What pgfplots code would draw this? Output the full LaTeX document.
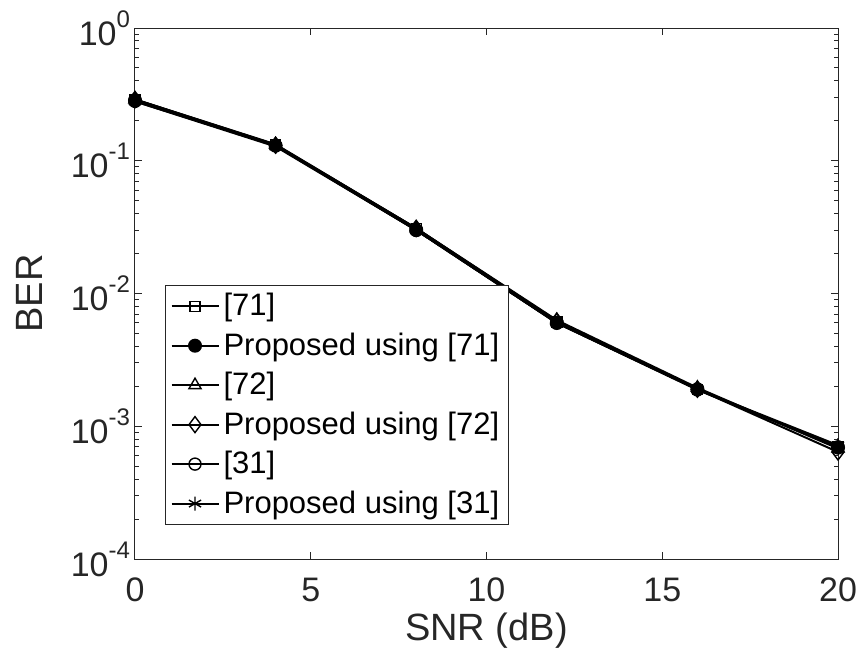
\documentclass[border=0pt]{standalone}
\usepackage{fontspec}
\setmainfont{Liberation Sans}
\usepackage{pgfplots}
\pgfplotsset{compat=1.18}
\definecolor{axgray}{RGB}{38,38,38}
\newcommand{\sep}[1]{10\raisebox{9pt}{\fontsize{12}{12}\selectfont #1}}
\begin{document}
\begin{tikzpicture}
\begin{axis}[
  scale only axis, width=351.5pt, height=265.5pt,
  ymode=log, xmin=0, xmax=20, ymin=1e-4, ymax=1,
  xtick={0,5,10,15,20},
  ytick={1e-4,1e-3,1e-2,1e-1,1},
  yticklabels={{\sep{-4}},{\sep{-3}},{\sep{-2}},{\sep{-1}},{\sep{0}}},
  /pgf/number format/assume math mode=true,
  tick align=inside, major tick length=3.5pt, minor tick length=2.2pt,
  axis line style={axgray, line width=0.5pt},
  every tick/.style={axgray, line width=0.5pt},
  tick label style={font=\fontsize{17}{20}\selectfont, text=axgray},
  xticklabel style={yshift=-6pt},
  yticklabel style={xshift=1pt},
  label style={font=\fontsize{19}{22}\selectfont, text=axgray},
  xlabel={SNR (dB)}, ylabel={BER},
  xlabel style={at={(axis description cs:0.5,-0.1356)}, anchor=center},
  ylabel style={at={(axis description cs:-0.1508,0.5)}, anchor=center},
  legend style={at={(0.0427,0.516)}, anchor=north west, font=\fontsize{15.5}{18}\selectfont,
    draw=axgray, line width=0.5pt, text=black, inner xsep=2.5pt, inner ysep=2pt, row sep=3pt,
    legend cell align=left},
  legend image code/.code={\draw[mark repeat=2,mark phase=2] plot coordinates {(0pt,0pt) (11.75pt,0pt) (23.5pt,0pt)};},
]
\addplot[black, solid, line width=1pt, mark=square, mark size=2.5pt, mark options={solid, line width=0.7pt}] coordinates {(0,0.29) (4,0.132) (8,0.031) (12,0.0061) (16,0.0019) (20,0.00070)};
\addlegendentry{[71]}
\addplot[black, solid, line width=1pt, mark=*, mark size=3pt, mark options={solid, fill=black}] coordinates {(0,0.285) (4,0.13) (8,0.030) (12,0.0060) (16,0.0019) (20,0.00069)};
\addlegendentry{Proposed using [71]}
\addplot[black, solid, line width=1pt, mark=triangle, mark size=3.5pt, mark options={solid, line width=0.7pt}] coordinates {(0,0.29) (4,0.133) (8,0.031) (12,0.0063) (16,0.00195) (20,0.00068)};
\addlegendentry{[72]}
\addplot[black, solid, line width=1pt, mark=diamond, mark size=4pt, mark options={solid, line width=0.7pt}] coordinates {(0,0.29) (4,0.131) (8,0.031) (12,0.0062) (16,0.0019) (20,0.00064)};
\addlegendentry{Proposed using [72]}
\addplot[black, solid, line width=1pt, mark=o, mark size=3pt, mark options={solid, line width=0.7pt}] coordinates {(0,0.28) (4,0.13) (8,0.030) (12,0.0060) (16,0.00188) (20,0.00070)};
\addlegendentry{[31]}
\addplot[black, solid, line width=1pt, mark=asterisk, mark size=3.5pt, mark options={solid, line width=0.7pt}] coordinates {(0,0.28) (4,0.128) (8,0.030) (12,0.0060) (16,0.0019) (20,0.00072)};
\addlegendentry{Proposed using [31]}
\end{axis}
\pgfresetboundingbox
\path[use as bounding box] ([xshift=-67.5pt,yshift=-54.5pt]current axis.south west) rectangle ([xshift=11pt,yshift=14pt]current axis.north east);
\end{tikzpicture}
\end{document}
